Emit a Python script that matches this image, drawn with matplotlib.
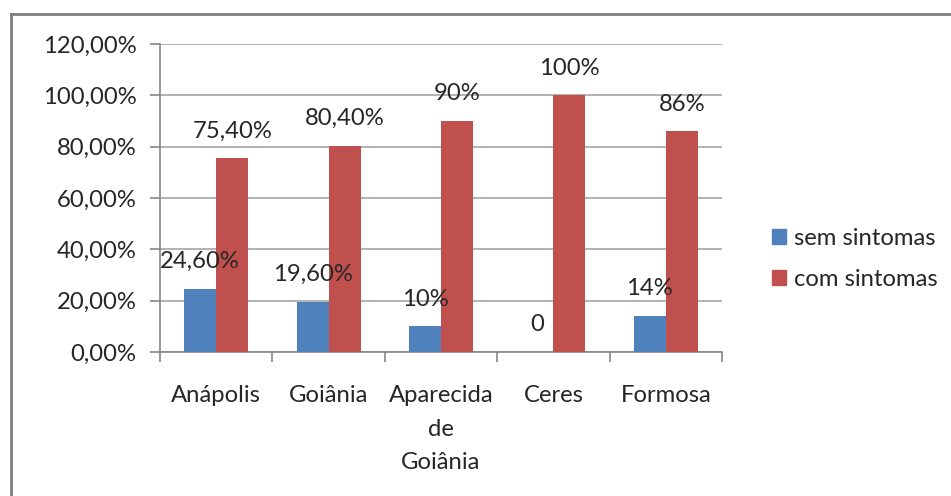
import matplotlib.pyplot as plt
import numpy as np
from matplotlib.lines import Line2D
from matplotlib.patches import Patch

cities = ['Anápolis', 'Goiânia', 'Aparecida\nde\nGoiânia', 'Ceres', 'Formosa']
sem_sintomas = [24.6, 19.6, 10.0, 0.0, 14.0]
com_sintomas = [75.4, 80.4, 90.0, 100.0, 86.0]
sem_labels = ['24,60%', '19,60%', '10%', '0', '14%']
com_labels = ['75,40%', '80,40%', '90%', '100%', '86%']
yticks = [0, 20, 40, 60, 80, 100, 120]
ytick_labels = ['0,00%', '20,00%', '40,00%', '60,00%', '80,00%', '100,00%', '120,00%']

BLUE = '#4F81BD'
RED = '#C0504D'
GRID = '#A6A6A6'
TEXT = '#262626'
FS = 17.2

plt.rcParams['font.family'] = ['Lato', 'DejaVu Sans']

fig = plt.figure(figsize=(9.51, 4.96), dpi=100)
ax = fig.add_axes([160 / 951, 144 / 496, 562 / 951, 308 / 496])

x = np.arange(len(cities))
w = 0.285
b1 = ax.bar(x - w / 2, sem_sintomas, w, color=BLUE, zorder=3)
b2 = ax.bar(x + w / 2, com_sintomas, w, color=RED, zorder=3)

for bars, labels in ((b1, sem_labels), (b2, com_labels)):
    for bar, lab in zip(bars, labels):
        ax.annotate(lab, (bar.get_x() + bar.get_width() / 2, bar.get_height()),
                    xytext=(0, 19.5), textcoords='offset points',
                    ha='center', va='center', fontsize=FS, color=TEXT, zorder=4)

ax.set_xlim(-0.5, len(cities) - 0.5)
ax.set_ylim(0, 120)
ax.set_yticks(yticks)
ax.set_yticklabels(ytick_labels)
ax.set_xticks(x)
ax.set_xticklabels(cities, linespacing=1.72)
ax.set_xticks(np.arange(len(cities) + 1) - 0.5, minor=True)

ax.yaxis.grid(True, color=GRID, linewidth=1.2, zorder=0)
ax.tick_params(axis='y', length=7, width=1.2, color='#868686', labelsize=FS,
               labelcolor=TEXT, pad=10)
ax.tick_params(axis='x', which='major', length=0, labelsize=FS, labelcolor=TEXT, pad=24)
ax.tick_params(axis='x', which='minor', length=7, width=1.2, color='#868686')

for side in ('top', 'right'):
    ax.spines[side].set_visible(False)
for side in ('left', 'bottom'):
    ax.spines[side].set_color('#868686')
    ax.spines[side].set_linewidth(1.2)

handles = [Patch(color=BLUE), Patch(color=RED)]
fig.legend(handles, ['sem sintomas', 'com sintomas'], loc='center left',
           bbox_to_anchor=(750 / 951, 1 - 259 / 496), frameon=False,
           fontsize=FS, labelcolor=TEXT, handlelength=0.6, handleheight=0.6,
           handletextpad=0.35, labelspacing=0.85)

fig.add_artist(Line2D([11 / 951, 1], [1 - 14 / 496, 1 - 14 / 496], color='#7F7F7F',
                      linewidth=2, transform=fig.transFigure))
fig.add_artist(Line2D([11 / 951, 11 / 951], [0, 1 - 14 / 496], color='#7F7F7F',
                      linewidth=2, transform=fig.transFigure))

fig.savefig('out.png', dpi=100)
